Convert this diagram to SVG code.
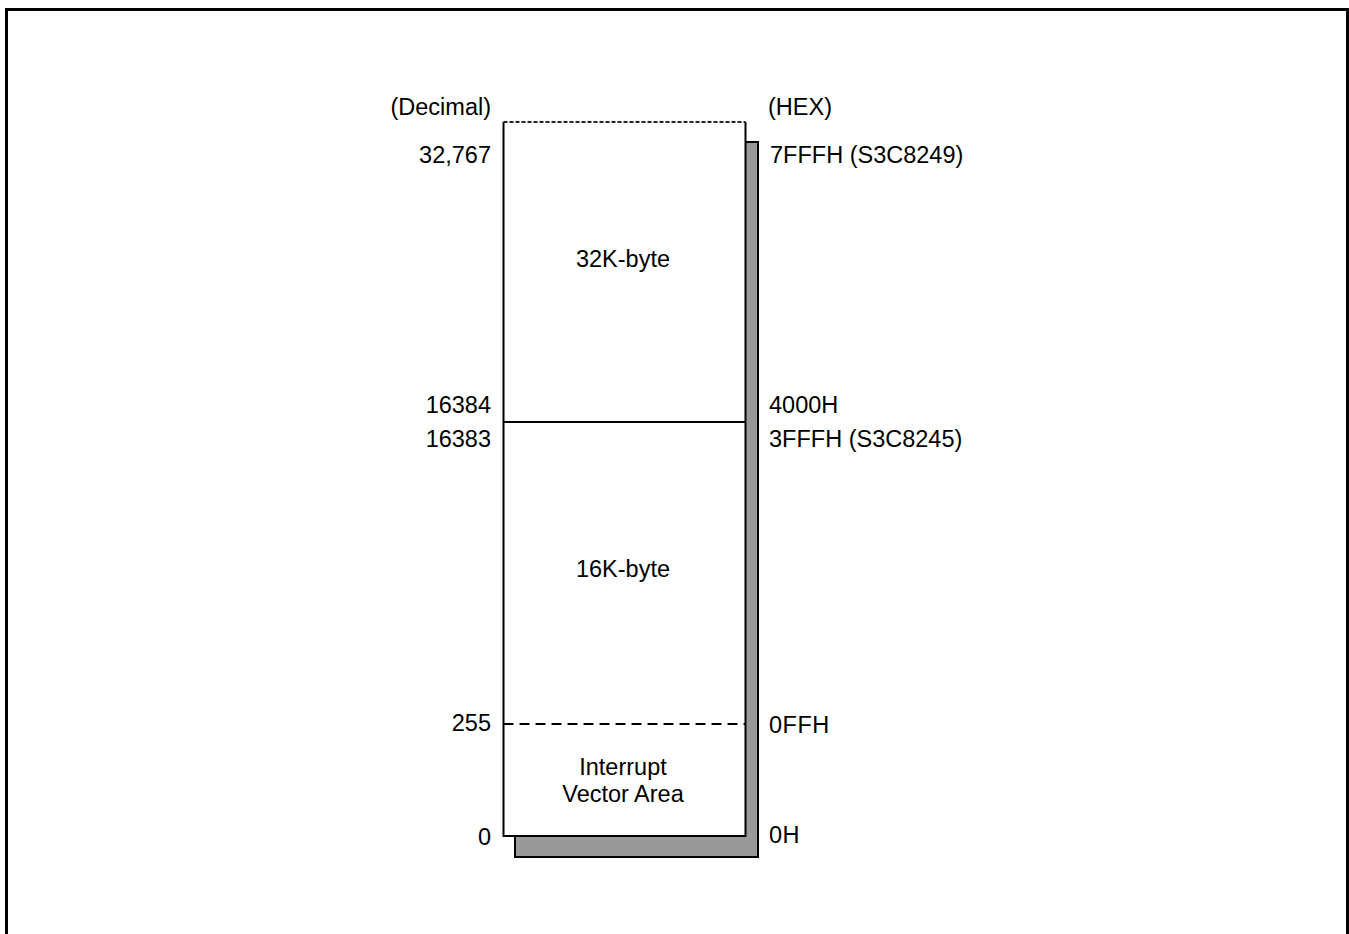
<svg xmlns="http://www.w3.org/2000/svg" width="1349" height="934" viewBox="0 0 1349 934">
<style>
text{font-family:"Liberation Sans",Arial,sans-serif;font-size:23.5px;fill:#000}
.l{text-anchor:end}
.c{text-anchor:middle}
</style>
<rect width="1349" height="934" fill="#fff"/>
<path d="M6.5,940 V9.5 H1347.5 V940" fill="none" stroke="#000" stroke-width="3"/>
<g id="memory">
<rect x="515" y="142" width="243" height="715" fill="#999" stroke="#000" stroke-width="2"/>
<rect x="503.5" y="122" width="242" height="714" fill="#fff" stroke="none"/>
<path d="M503.5,122 V836 H745.5 V122" fill="none" stroke="#000" stroke-width="2"/>
<line x1="503.5" y1="122" x2="745.5" y2="122" stroke="#222" stroke-width="2" stroke-dasharray="4,2"/>
</g>
<g id="connectors">
<line x1="503.5" y1="422" x2="745.5" y2="422" stroke="#000" stroke-width="2"/>
<line x1="503.5" y1="724" x2="745.5" y2="724" stroke="#000" stroke-width="2" stroke-dasharray="10,6"/>
</g>
<g id="region-32k"><text class="c" x="623" y="267">32K-byte</text></g>
<g id="region-16k"><text class="c" x="623" y="577">16K-byte</text></g>
<g id="region-ivr"><text class="c" x="623" y="775">Interrupt</text><text class="c" x="623" y="802">Vector Area</text></g>
<g id="labels-dec">
<text class="l" x="491" y="115">(Decimal)</text>
<text class="l" x="491" y="163">32,767</text>
<text class="l" x="491" y="413">16384</text>
<text class="l" x="491" y="447">16383</text>
<text class="l" x="491" y="731">255</text>
<text class="l" x="491" y="845">0</text>
</g>
<g id="labels-hex">
<text x="768" y="115">(HEX)</text>
<text x="770" y="163">7FFFH (S3C8249)</text>
<text x="769" y="413">4000H</text>
<text x="769" y="447">3FFFH (S3C8245)</text>
<text x="769" y="733" letter-spacing="0.5">0FFH</text>
<text x="769" y="843" letter-spacing="0.5">0H</text>
</g>
</svg>
